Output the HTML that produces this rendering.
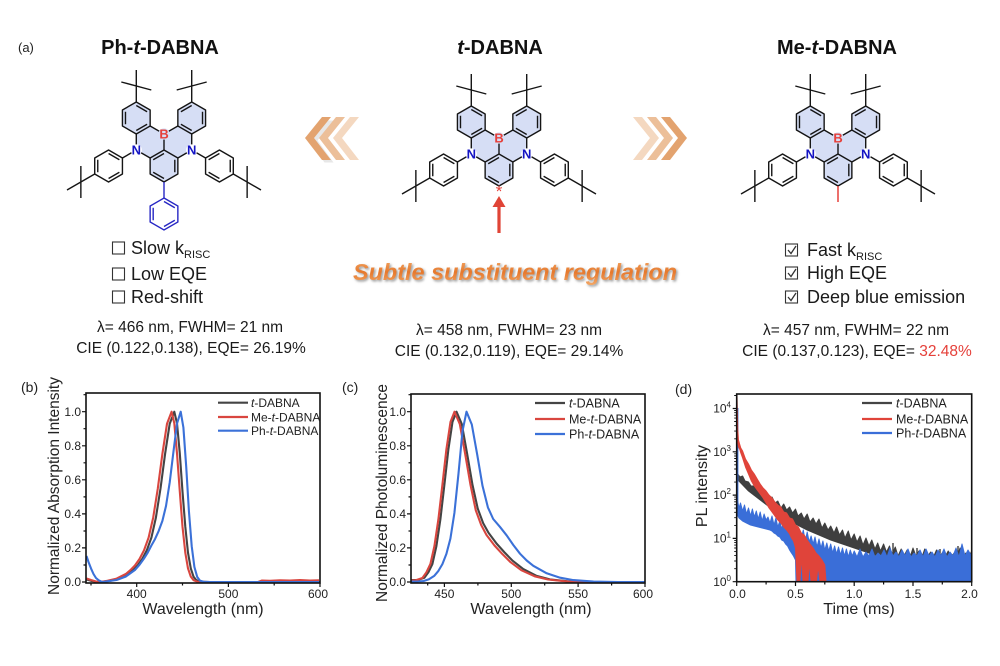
<!DOCTYPE html>
<html><head><meta charset="utf-8"><style>
html,body{margin:0;padding:0;background:#fff;}
svg{display:block;font-family:"Liberation Sans",Arial,sans-serif;}
</style></head><body>
<svg width="1000" height="666" viewBox="0 0 1000 666" xmlns="http://www.w3.org/2000/svg">
<defs>
<g id="hA"><polygon points="0,-16 13.86,-8 13.86,8 0,16 -13.86,8 -13.86,-8"/><path d="M0,-12.48L10.81,-6.24M10.81,6.24L0,12.48M-10.81,6.24L-10.81,-6.24"/></g>
<g id="hB"><polygon points="0,-16 13.86,-8 13.86,8 0,16 -13.86,8 -13.86,-8"/><path d="M10.81,-6.24L10.81,6.24M0,12.48L-10.81,6.24M-10.81,-6.24L0,-12.48"/></g>
<g id="core">
 <polygon fill="#d6def5" stroke="none" points="-27.71,-32 -13.86,-24 -13.86,-8 0,0 13.86,-8 13.86,-24 27.71,-32 41.57,-24 41.57,-8 27.71,0 27.71,16 13.86,24 13.86,40 0,48 -13.86,40 -13.86,24 -27.71,16 -27.71,0 -41.57,-8 -41.57,-24"/>
 <g fill="none" stroke="#151515" stroke-width="1.4" stroke-linejoin="round">
  <use href="#hA" x="-27.71" y="-16"/>
  <use href="#hB" x="27.71" y="-16"/>
  <use href="#hB" x="0" y="32"/>
  <use href="#hA" x="-55.43" y="32"/>
  <use href="#hB" x="55.43" y="32"/>
  <path d="M0,0L-13.86,-8M0,0L13.86,-8M0,0L0,16M-27.71,16L-27.71,0M-27.71,16L-13.86,24M27.71,16L27.71,0M27.71,16L13.86,24M-27.71,16L-41.57,24M27.71,16L41.57,24"/>
  <path d="M-27.71,-32L-27.71,-64M-42.7,-52L-12.7,-44M27.71,-32L27.71,-64M42.7,-52L12.7,-44M-69.28,40L-97,56M-83.14,32L-83.14,64M69.28,40L97,56M83.14,32L83.14,64"/>
 </g>
 <circle cx="0" cy="0" r="5.6" fill="#d6def5"/>
 <circle cx="-27.71" cy="16" r="5.6" fill="#ffffff"/>
 <circle cx="27.71" cy="16" r="5.6" fill="#ffffff"/>
 <text x="0" y="4.7" fill="#e5403a" font-size="13" font-weight="bold" text-anchor="middle">B</text>
 <text x="-27.71" y="20.7" fill="#1414c4" font-size="13" font-weight="bold" text-anchor="middle">N</text>
 <text x="27.71" y="20.7" fill="#1414c4" font-size="13" font-weight="bold" text-anchor="middle">N</text>
</g>
<filter id="sh" x="-10%" y="-30%" width="120%" height="160%"><feGaussianBlur stdDeviation="1.2"/></filter>
<linearGradient id="og" x1="0" y1="0" x2="0" y2="1"><stop offset="0" stop-color="#f3a868"/><stop offset="0.5" stop-color="#e6782c"/><stop offset="1" stop-color="#f2a766"/></linearGradient>
<clipPath id="cd"><rect x="736.7" y="394" width="235" height="187.7"/></clipPath>
</defs>

<!-- Panel (a) -->
<text x="18" y="52" font-size="13" fill="#222">(a)</text>
<text x="160" y="54" font-size="20" font-weight="bold" text-anchor="middle" fill="#111">Ph-<tspan font-style="italic">t</tspan>-DABNA</text>
<text x="500" y="54" font-size="20" font-weight="bold" text-anchor="middle" fill="#111"><tspan font-style="italic">t</tspan>-DABNA</text>
<text x="837" y="54" font-size="20" font-weight="bold" text-anchor="middle" fill="#111">Me-<tspan font-style="italic">t</tspan>-DABNA</text>

<use href="#core" transform="translate(164,134)"/>
<g transform="translate(164,134)" fill="none" stroke="#2727c4" stroke-width="1.4"><path d="M0,48L0,64"/><use href="#hA" x="0" y="80"/></g>

<use href="#core" transform="translate(499,138)"/>
<text x="499" y="197" font-size="17" fill="#e5403a" text-anchor="middle">*</text>
<path d="M499,233L499,205" stroke="#e04436" stroke-width="3.2"/>
<polygon points="499,196 492.5,207 505.5,207" fill="#e04436"/>

<use href="#core" transform="translate(838,138)"/>
<path d="M838,186L838,202" stroke="#e5403a" stroke-width="1.5"/>

<!-- chevrons -->
<g>
<polygon points="307,139 323,119 332,119 316,139 332,161 323,161" fill="#bbb" opacity="0.35" transform="translate(1.5,1.5)"/>
<polygon points="305,138 322,117 331,117 314,138 331,160 322,160" fill="#e3a36f"/>
<polygon points="319,138 336,117 345,117 328,138 345,160 336,160" fill="#ecbf99"/>
<polygon points="333,138 350,117 359,117 342,138 359,160 350,160" fill="#f4d8c0"/>
<polygon points="633,117 642,117 659,138 642,160 633,160 650,138" fill="#f4d8c0"/>
<polygon points="647,117 656,117 673,138 656,160 647,160 664,138" fill="#ecbf99"/>
<polygon points="661,117 670,117 687,138 670,160 661,160 678,138" fill="#e3a36f"/>
</g>

<!-- subtle text -->
<text x="516.5" y="281.5" font-size="23" font-weight="bold" font-style="italic" text-anchor="middle" fill="#999" filter="url(#sh)" textLength="324" lengthAdjust="spacingAndGlyphs">Subtle substituent regulation</text>
<text x="515" y="280" font-size="23" font-weight="bold" font-style="italic" text-anchor="middle" fill="url(#og)" textLength="324" lengthAdjust="spacingAndGlyphs">Subtle substituent regulation</text>

<!-- checkboxes -->
<g fill="none" stroke="#333" stroke-width="1.1">
<rect x="112.5" y="242" width="12" height="12"/>
<rect x="112.5" y="268" width="12" height="12"/>
<rect x="112.5" y="291" width="12" height="12"/>
<rect x="785.5" y="244" width="12" height="12"/>
<rect x="785.5" y="267" width="12" height="12"/>
<rect x="785.5" y="291" width="12" height="12"/>
<path d="M788,250L791,253.5L796,246M788,273L791,276.5L796,269M788,297L791,300.5L796,293" stroke-width="1.3"/>
</g>
<g font-size="18" fill="#1a1a1a">
<text x="131" y="254">Slow k<tspan font-size="11" dy="4">RISC</tspan></text>
<text x="131" y="280">Low EQE</text>
<text x="131" y="303">Red-shift</text>
<text x="807" y="256">Fast k<tspan font-size="11" dy="4">RISC</tspan></text>
<text x="807" y="279">High EQE</text>
<text x="807" y="303">Deep blue emission</text>
</g>
<g font-size="15.5" fill="#1a1a1a" text-anchor="middle">
<text x="190" y="332">λ= 466 nm, FWHM= 21 nm</text>
<text x="191" y="353">CIE (0.122,0.138), EQE= 26.19%</text>
<text x="509" y="335">λ= 458 nm, FWHM= 23 nm</text>
<text x="509" y="356">CIE (0.132,0.119), EQE= 29.14%</text>
<text x="856" y="335">λ= 457 nm, FWHM= 22 nm</text>
<text x="857" y="356">CIE (0.137,0.123), EQE= <tspan fill="#e5403a">32.48%</tspan></text>
</g>

<!-- Panel labels -->
<g font-size="14" fill="#222">
<text x="21" y="392">(b)</text>
<text x="342" y="392">(c)</text>
<text x="675" y="394">(d)</text>
</g>

<!-- (b) -->
<g fill="none" stroke-linejoin="round" stroke-width="2.1">
<polyline stroke="#444" points="86.5,579.5 91,580.8 95.5,581.6 100,582 110.1,580.8 119.3,578.6 128.5,574.0 133.0,570.2 137.6,565.5 142.2,559.0 146.8,550.3 151.4,537.6 155.9,517.6 160.5,488.5 165.1,453.8 169.7,423.8 174.3,411.7 177.0,423.3 179.8,453.4 182.5,491.6 185.3,526.7 188.0,552.7 190.8,568.4 193.5,576.6 196.3,580.1 199.9,581.7 210,582 320,582"/>
<polyline stroke="#d9463f" points="86.5,578.5 91,580 96,581.5 100,582 107.4,580.8 116.6,578.6 125.8,574.0 130.3,570.2 134.9,565.5 139.5,559.0 144.0,550.3 148.6,537.6 153.2,517.6 157.8,488.5 162.4,453.8 167.0,423.8 171.6,411.7 174.3,423.3 177.0,453.4 179.8,491.6 182.5,526.7 185.3,552.7 188.0,568.4 190.8,576.6 193.5,580.1 197.2,581.7 207.3,582 258,582 262,580.5 270,580.8 280,580.3 290,580.6 300,580 310,580.5 319,580.3"/>
<polyline stroke="#3b71d8" points="86.5,556 88.5,562 91,568.4 93.5,574 96,578 99,580.5 102,582 107.4,581.3 116.5,580.0 125.7,576.6 134.9,570.0 139.5,564.8 144.0,558.5 147.7,552.7 151.4,545.5 155.0,539.1 158.7,530.9 162.4,520.9 166.0,506.0 169.7,482.5 173.4,452.1 177.0,423.6 180.7,411.7 183.4,427.5 186.2,466.5 188.9,511.0 191.7,546.1 194.4,567.0 197.2,576.9 199.9,580.6 203.6,581.8 210,582 320,582"/>
</g>
<rect x="86" y="393" width="234" height="190" fill="none" stroke="#111" stroke-width="1.6"/>
<g stroke="#111" stroke-width="1.2">
<path d="M86,582H82M86,547.9H82M86,513.9H82M86,479.8H82M86,445.8H82M86,411.7H82"/>
<path d="M86,565H83.5M86,531H83.5M86,496.9H83.5M86,462.8H83.5M86,428.7H83.5M86,394.7H83.5"/>
<path d="M136.7,583V587M228.4,583V587M320,583V587M182.5,583V585.5M274.2,583V585.5M91,583V585.5"/>
</g>
<g font-size="12" fill="#222" text-anchor="end">
<text x="81" y="586">0.0</text><text x="81" y="552">0.2</text><text x="81" y="518">0.4</text><text x="81" y="484">0.6</text><text x="81" y="450">0.8</text><text x="81" y="416">1.0</text>
</g>
<g font-size="12" fill="#222" text-anchor="middle">
<text x="136.7" y="598">400</text><text x="228.4" y="598">500</text><text x="318" y="598">600</text>
</g>
<text x="203" y="614" font-size="16" fill="#222" text-anchor="middle">Wavelength (nm)</text>
<text transform="translate(59,486) rotate(-90)" font-size="15.5" fill="#222" text-anchor="middle">Normalized Absorption Intensity</text>
<g stroke-width="2.2">
<path d="M218,402.7H248" stroke="#444"/><path d="M218,417H248" stroke="#d9463f"/><path d="M218,430.7H248" stroke="#3b71d8"/>
</g>
<g font-size="12" fill="#222">
<text x="251" y="407"><tspan font-style="italic">t</tspan>-DABNA</text>
<text x="251" y="421.5">Me-<tspan font-style="italic">t</tspan>-DABNA</text>
<text x="251" y="435">Ph-<tspan font-style="italic">t</tspan>-DABNA</text>
</g>

<!-- (c) -->
<g fill="none" stroke-linejoin="round" stroke-width="2.1">
<polyline stroke="#444" points="411,580 417.7,580 424.4,577.7 428.4,572.3 432.4,564.0 436.4,546.1 440.4,519.2 444.4,484.8 448.4,449.3 452.5,421.9 456.5,411.7 461.8,424.1 467.1,453.6 472.5,484.9 477.8,508.8 483.2,523.2 488.5,532.8 496.5,543.5 504.6,552.5 512.6,560.7 523.3,569.1 536.7,575.9 550.0,579.4 570.1,581.5 591.5,582 645,582"/>
<polyline stroke="#d9463f" points="411,580.5 415.7,580.3 422.4,578 426.4,572.3 430.4,564 434.4,546.1 438.4,519.2 442.4,484.8 446.4,449.3 450.5,421.9 454.5,411.7 459.8,424.1 465.1,453.6 470.5,484.9 475.8,510.4 481.2,525 486.5,535 494.5,545.5 502.6,554.3 510.6,562.2 521.3,570.2 534.7,576.3 548,579.5 568,581.6 590,582 645,582"/>
<polyline stroke="#3b71d8" points="411,581.5 417.7,581.5 423.7,581 429.0,579.3 434.4,575.7 438.4,570.9 442.4,564.1 446.4,553.9 450.4,538.6 454.4,513.0 458.5,473.5 462.5,431.1 466.5,411.7 471.8,424.5 477.2,454.6 482.5,485.8 487.9,507.4 493.2,519.0 499.9,526.8 506.6,535.3 513.3,545.0 520.0,553.7 526.7,560.5 533.3,565.8 546.7,573.3 560.1,577.7 573.4,580.1 593.5,581.6 618,582 645,582"/>
</g>
<rect x="411" y="394" width="234" height="189" fill="none" stroke="#111" stroke-width="1.6"/>
<g stroke="#111" stroke-width="1.2">
<path d="M411,582H407M411,547.9H407M411,513.9H407M411,479.8H407M411,445.8H407M411,411.7H407"/>
<path d="M411,565H408.5M411,531H408.5M411,496.9H408.5M411,462.8H408.5M411,428.7H408.5M411,394.7H408.5"/>
<path d="M444.4,583V587M511.3,583V587M578.1,583V587M645,583V587M427.7,583V585.5M477.9,583V585.5M544.7,583V585.5M611.6,583V585.5"/>
</g>
<g font-size="12" fill="#222" text-anchor="end">
<text x="406" y="586">0.0</text><text x="406" y="552">0.2</text><text x="406" y="518">0.4</text><text x="406" y="484">0.6</text><text x="406" y="450">0.8</text><text x="406" y="416">1.0</text>
</g>
<g font-size="12" fill="#222" text-anchor="middle">
<text x="444.4" y="598">450</text><text x="511.3" y="598">500</text><text x="578.1" y="598">550</text><text x="643" y="598">600</text>
</g>
<text x="531" y="614" font-size="16" fill="#222" text-anchor="middle">Wavelength (nm)</text>
<text transform="translate(387,493) rotate(-90)" font-size="15.5" fill="#222" text-anchor="middle">Normalized Photoluminescence</text>
<g stroke-width="2.2">
<path d="M535,403H565" stroke="#444"/><path d="M535,419H565" stroke="#d9463f"/><path d="M535,434H565" stroke="#3b71d8"/>
</g>
<g font-size="12.5" fill="#222">
<text x="569" y="407.5"><tspan font-style="italic">t</tspan>-DABNA</text>
<text x="569" y="423.5">Me-<tspan font-style="italic">t</tspan>-DABNA</text>
<text x="569" y="438.5">Ph-<tspan font-style="italic">t</tspan>-DABNA</text>
</g>

<!-- (d) -->
<g clip-path="url(#cd)" stroke-linejoin="round">
<polygon fill="#3f3f3f" stroke="#3f3f3f" stroke-width="1" points="737,473 740,477 742.6,476 745,481 748.5,482 751,486 754.3,486 757,491 760.2,490 763,495 766.1,494 769,499 772,497 775,503 777.8,501 781,508 783.7,504 786.6,510 789.6,507 792.5,513 795.5,509 798,516 801.3,513 804,519 807.2,514 810,522 813.1,518 816,524 819,519 822,528 824.8,523 828,530 830.7,526 834,533 836.6,527 839.5,535 842.5,530 845,538 848.3,531 851,540 854.2,534 857,542 860.1,536 863,545 866,538 869,546 871.8,540 875,549 877.7,543 880.5,551 883.6,544 886.5,552 889.5,546 892,554 895.3,547 898,556 901.2,549 904,556 907.1,550 910,557 913,548 916,556 918.8,551 922,557 924.7,549 928,556 930.6,552 933.5,557 936.5,550 939,557 942.3,553 945,557 948.2,551 951,557 954.1,553 957,557 960.0,548 963,557 965.8,553 969,557 971.7,551 971.7,572 960,570 948.2,569 936.5,568 924.7,566 913,564 901.2,562 889.5,559 877.7,556 866,552 854.2,548 842.5,544 830.7,540 819,535 807.2,530 795.5,524 783.7,517 772,509 760.2,500 748.5,491 737,479"/>
<path d="M870,545V581.7M893,543V581.7M917,548V581.7M940,549V581.7M958,546V581.7" stroke="#3f3f3f" stroke-width="1.4"/>
<polygon fill="#3a6ed8" stroke="#3a6ed8" stroke-width="1" points="737.5,500 739,508 740.5,503 742.6,511 744.5,505 746.5,514 748.5,508 750.5,516 752.4,509 754.3,517 756.3,511 758.2,519 760.2,512 762.1,521 764.1,514 766.1,520 768,517 770,523 772,516 774,525 775.9,518 777.8,527 779.8,521 781.7,529 783.7,521 785.6,531 787.6,524 789.6,533 791.5,526 793.5,535 795.5,527 797.4,537 799.4,530 801.3,538 803.3,530 805.2,541 807.2,532 809.2,542 811.1,536 813.1,544 815,537 817,547 819,539 821,548 822.9,541 824.8,550 826.8,543 828.7,551 830.7,544 832.7,553 834.6,546 836.6,554 838.5,547 840.5,555 842.5,548 844.4,556 846.4,549 848.3,557 850.3,550 852.2,556 854.2,551 857,557 860,549 863,557 866,552 869,556 872,549 875,557 878,553 881,556 884,550 887,557 890,548 893,556 896,552 899,557 902,550 905,556 908,549 911,557 914,553 917,556 920,550 923,557 926,549 929,556 932,552 935,557 938,550 941,556 944,549 947,557 950,552 953,556 956,548 959,557 962,544 965,556 968,550 971.5,556 971.7,581.7 796,581.7 795.5,560 793.5,556 791.5,553 789.6,550 787.6,546 785.6,544 783.7,541 781.7,540 779.8,537 777.8,536 775.9,534 774,533 772,531 770,530 766.1,529 762.1,528 758.2,527 754.3,526 750.5,525 746.5,523 742.6,521 739,518 737.5,515"/>
<path d="M737.4,408V512" stroke="#3a6ed8" stroke-width="2"/>
<polygon fill="#e0443a" stroke="#e0443a" stroke-width="1" points="737,394 737.8,430 738.5,440 739.6,444 740.8,448 742.6,451 745.5,459 748.5,464 751.4,470 754.3,474 757.2,479 760.2,484 763.1,488 766.1,491 769,495 772,498 774.9,502 777.8,505 780.8,507 783.7,512 786.6,513 789.6,518 792.5,519 795.5,525 798.4,527 801.3,533 804.2,535 807.2,540 810,544 813.1,548 816,553 819,556 822,560 824.8,565 826,581.7 820,581.7 818,566 816.5,581.7 811,581.7 809.5,562 808,581.7 803,581.7 801.5,556 800,581.7 797,581.7 795.5,548 793.5,541 791.5,538 789.6,534 786.6,530 783.7,527 780.8,523 777.8,520 774.9,516 772,512 769,508 766.1,503 763.1,498 760.2,494 757.2,490 754.3,486 751.4,481 748.5,474 745.5,467 742.6,458 740.8,453 739.6,449 738.5,447 737.6,440 737,430"/>
</g>
<rect x="736.7" y="394" width="235" height="187.7" fill="none" stroke="#111" stroke-width="1.6"/>
<g stroke="#111" stroke-width="1.2">
<path d="M736.7,581.7H732.7M736.7,538.4H732.7M736.7,495.1H732.7M736.7,451.8H732.7M736.7,408.5H732.7"/>
<path stroke-width="0.9" d="M736.7,568.7h-2.5M736.7,561h-2.5M736.7,555.6h-2.5M736.7,551.4h-2.5M736.7,548h-2.5M736.7,545.1h-2.5M736.7,542.6h-2.5M736.7,540.4h-2.5M736.7,525.4h-2.5M736.7,517.7h-2.5M736.7,512.3h-2.5M736.7,508.1h-2.5M736.7,504.7h-2.5M736.7,501.8h-2.5M736.7,499.3h-2.5M736.7,497.1h-2.5M736.7,482.1h-2.5M736.7,474.4h-2.5M736.7,469h-2.5M736.7,464.8h-2.5M736.7,461.4h-2.5M736.7,458.5h-2.5M736.7,456h-2.5M736.7,453.8h-2.5M736.7,438.8h-2.5M736.7,431.1h-2.5M736.7,425.7h-2.5M736.7,421.5h-2.5M736.7,418.1h-2.5M736.7,415.2h-2.5M736.7,412.7h-2.5M736.7,410.5h-2.5M736.7,395.5h-2.5"/>
<path d="M736.7,582V586M795.5,582V586M854.2,582V586M913,582V586M971.7,582V586M766.1,582V584.5M824.8,582V584.5M883.6,582V584.5M942.3,582V584.5"/>
</g>
<g font-size="12" fill="#222" text-anchor="end">
<text x="731" y="586">10<tspan font-size="8" dy="-5">0</tspan></text>
<text x="731" y="542.5">10<tspan font-size="8" dy="-5">1</tspan></text>
<text x="731" y="499.2">10<tspan font-size="8" dy="-5">2</tspan></text>
<text x="731" y="455.9">10<tspan font-size="8" dy="-5">3</tspan></text>
<text x="731" y="412.6">10<tspan font-size="8" dy="-5">4</tspan></text>
</g>
<g font-size="12" fill="#222" text-anchor="middle">
<text x="737.5" y="598">0.0</text><text x="795.5" y="598">0.5</text><text x="854.2" y="598">1.0</text><text x="913" y="598">1.5</text><text x="969.5" y="598">2.0</text>
</g>
<text x="859" y="614" font-size="16" fill="#222" text-anchor="middle">Time (ms)</text>
<text transform="translate(707,486) rotate(-90)" font-size="16" fill="#222" text-anchor="middle">PL intensity</text>
<g stroke-width="2.2">
<path d="M862,403H892" stroke="#444"/><path d="M862,419H892" stroke="#e0443a"/><path d="M862,433H892" stroke="#3a6ed8"/>
</g>
<g font-size="12.5" fill="#222">
<text x="896" y="407.5"><tspan font-style="italic">t</tspan>-DABNA</text>
<text x="896" y="423.5">Me-<tspan font-style="italic">t</tspan>-DABNA</text>
<text x="896" y="437.5">Ph-<tspan font-style="italic">t</tspan>-DABNA</text>
</g>
</svg>
</body></html>
